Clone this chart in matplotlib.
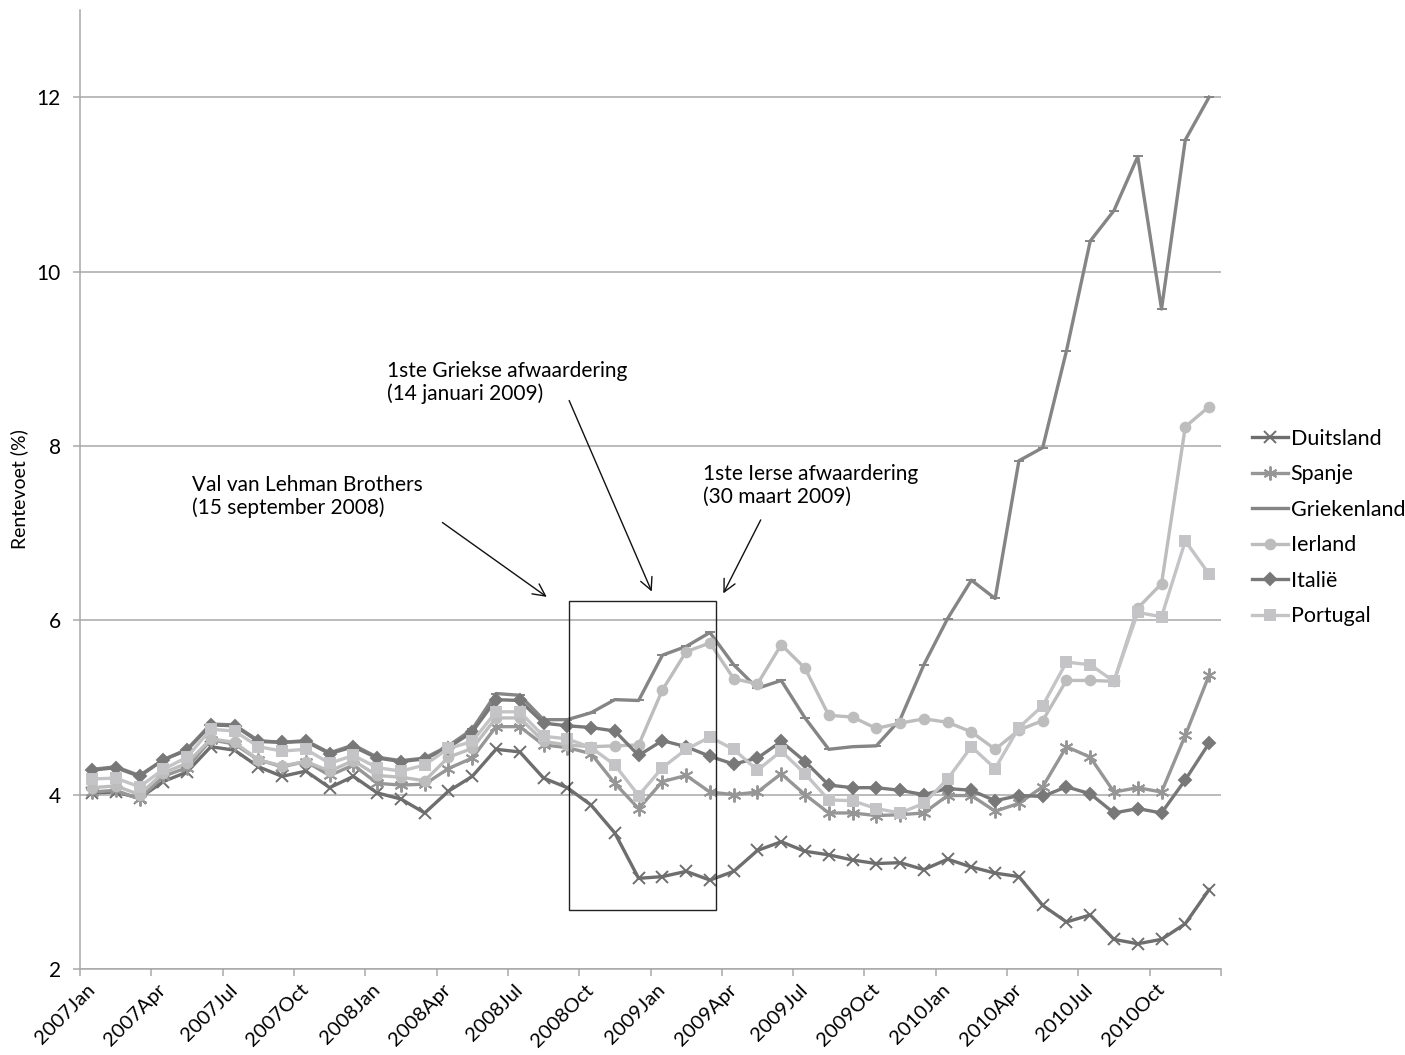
import matplotlib
matplotlib.use("Agg")
import matplotlib.pyplot as plt
from matplotlib.patches import Rectangle

plt.rcParams['font.family'] = ['Lato', 'DejaVu Sans']

# Monthly long-term interest rates, Jan 2007 - Dec 2010
years = ['2007', '2008', '2009', '2010']
months = ['Jan', 'Feb', 'Mar', 'Apr', 'May', 'Jun', 'Jul', 'Aug', 'Sep', 'Oct', 'Nov', 'Dec']
periods = [y + m for y in years for m in months]

duitsland = [4.02, 4.03, 3.96, 4.15, 4.26, 4.55, 4.51, 4.32, 4.21, 4.27, 4.08, 4.21,
             4.02, 3.95, 3.79, 4.04, 4.21, 4.52, 4.49, 4.19, 4.08, 3.88, 3.56, 3.04,
             3.06, 3.12, 3.02, 3.12, 3.36, 3.46, 3.35, 3.31, 3.25, 3.21, 3.22, 3.14,
             3.26, 3.17, 3.10, 3.06, 2.73, 2.54, 2.62, 2.34, 2.29, 2.34, 2.52, 2.91]
spanje = [4.03, 4.05, 3.95, 4.21, 4.31, 4.63, 4.58, 4.40, 4.32, 4.38, 4.22, 4.34,
          4.13, 4.11, 4.12, 4.30, 4.42, 4.78, 4.78, 4.57, 4.54, 4.47, 4.13, 3.84,
          4.15, 4.22, 4.03, 4.00, 4.03, 4.24, 4.00, 3.79, 3.79, 3.76, 3.77, 3.79,
          3.99, 3.99, 3.81, 3.90, 4.09, 4.55, 4.43, 4.03, 4.08, 4.03, 4.68, 5.37]
griekenland = [4.29, 4.32, 4.22, 4.40, 4.52, 4.81, 4.80, 4.62, 4.60, 4.62, 4.48, 4.57,
               4.43, 4.39, 4.42, 4.56, 4.75, 5.16, 5.14, 4.86, 4.86, 4.94, 5.09, 5.08,
               5.60, 5.70, 5.86, 5.49, 5.22, 5.31, 4.88, 4.52, 4.55, 4.56, 4.86, 5.49,
               6.02, 6.46, 6.25, 7.83, 7.98, 9.09, 10.35, 10.70, 11.32, 9.57, 11.51, 12.00]
ierland = [4.08, 4.10, 4.00, 4.25, 4.36, 4.64, 4.60, 4.40, 4.33, 4.38, 4.27, 4.39,
           4.22, 4.20, 4.16, 4.43, 4.53, 4.88, 4.88, 4.61, 4.57, 4.55, 4.56, 4.57,
           5.20, 5.64, 5.74, 5.33, 5.27, 5.72, 5.45, 4.91, 4.89, 4.76, 4.82, 4.87,
           4.83, 4.72, 4.52, 4.74, 4.85, 5.31, 5.31, 5.30, 6.14, 6.42, 8.22, 8.45]
italie = [4.28, 4.31, 4.21, 4.40, 4.51, 4.80, 4.79, 4.61, 4.60, 4.61, 4.47, 4.55,
          4.42, 4.38, 4.41, 4.54, 4.72, 5.09, 5.08, 4.82, 4.79, 4.77, 4.73, 4.45,
          4.62, 4.55, 4.44, 4.35, 4.42, 4.61, 4.38, 4.11, 4.08, 4.08, 4.05, 4.00,
          4.07, 4.05, 3.93, 3.99, 3.98, 4.09, 4.01, 3.79, 3.84, 3.79, 4.17, 4.59]
portugal = [4.18, 4.19, 4.09, 4.29, 4.43, 4.75, 4.73, 4.55, 4.50, 4.52, 4.36, 4.45,
            4.31, 4.27, 4.34, 4.53, 4.61, 4.95, 4.95, 4.67, 4.64, 4.54, 4.34, 3.99,
            4.31, 4.52, 4.66, 4.52, 4.28, 4.50, 4.24, 3.94, 3.93, 3.84, 3.79, 3.90,
            4.18, 4.55, 4.30, 4.77, 5.02, 5.52, 5.49, 5.30, 6.09, 6.04, 6.91, 6.53]

series = [
    ('Duitsland', duitsland, '#6e6e6e', 'x', 8),
    ('Spanje', spanje, '#969696', (6, 2, 0), 10),
    ('Griekenland', griekenland, '#858585', '_', 7),
    ('Ierland', ierland, '#bdbdbd', 'o', 7),
    ('Italië', italie, '#787878', 'D', 6),
    ('Portugal', portugal, '#c4c4c6', 's', 7),
]

fig = plt.figure(figsize=(14.05, 10.55), dpi=100)
ax = fig.add_axes([0.057, 0.0815, 0.812, 0.909])

x = list(range(len(periods)))
for name, vals, color, marker, ms in series:
    ax.plot(x, vals, color=color, lw=2.4, marker=marker, ms=ms, mew=1.4,
            mfc=color, mec=color, label=name)

ax.set_xlim(-0.5, len(periods) - 0.5)
ax.set_ylim(2, 13)
ax.set_yticks([2, 4, 6, 8, 10, 12])
ax.grid(axis='y', color='#a8a8a8', lw=1.1)
ax.set_axisbelow(True)

# ticks between categories, labels on every third month
ax.set_xticks([i - 0.5 for i in range(0, len(periods) + 1, 3)])
ax.set_xticklabels([])
ax.set_xticks(x[::3], minor=True)
ax.set_xticklabels(periods[::3], minor=True, rotation=45, ha='right', va='center',
                   rotation_mode='anchor', fontsize=14.5)
ax.tick_params(axis='x', which='minor', length=0, pad=13)
ax.tick_params(axis='x', which='major', length=5, color='#a8a8a8', width=1.1)
ax.tick_params(axis='y', length=5, color='#a8a8a8', width=1.1, labelsize=15, pad=9)

for side in ['top', 'right']:
    ax.spines[side].set_visible(False)
for side in ['left', 'bottom']:
    ax.spines[side].set_color('#a8a8a8')
    ax.spines[side].set_linewidth(1.1)

ax.set_ylabel('Rentevoet (%)', fontsize=14)
ax.yaxis.set_label_coords(-0.0456, 0.5)

# period between the first downgrades
ax.add_patch(Rectangle((20.07, 2.68), 6.19, 3.54, fill=False, ec='#222222', lw=1.0, zorder=5))

arrow = dict(arrowstyle='->', color='#111111', lw=1.0, mutation_scale=22)
ax.annotate('Val van Lehman Brothers\n(15 september 2008)', xy=(19.23, 6.25),
            xytext=(4.2, 7.67), fontsize=15, va='top', ha='left', linespacing=1.15)
ax.annotate('', xy=(19.23, 6.25), xytext=(14.65, 7.14), arrowprops=arrow)
ax.annotate('1ste Griekse afwaardering\n(14 januari 2009)', xy=(23.6, 6.30),
            xytext=(12.42, 8.97), fontsize=15, va='top', ha='left', linespacing=1.15)
ax.annotate('', xy=(23.6, 6.30), xytext=(20.03, 8.55), arrowprops=arrow)
ax.annotate('1ste Ierse afwaardering\n(30 maart 2009)', xy=(26.51, 6.28),
            xytext=(25.71, 7.79), fontsize=15, va='top', ha='left', linespacing=1.15)
ax.annotate('', xy=(26.51, 6.28), xytext=(28.19, 7.18), arrowprops=arrow)

ax.legend(loc='center left', bbox_to_anchor=(0.891, 0.5), bbox_transform=fig.transFigure,
          frameon=False, fontsize=15.5, handlelength=1.7, handletextpad=0.1,
          labelspacing=0.72, borderaxespad=0, borderpad=0)

fig.savefig('out.png', dpi=100)
